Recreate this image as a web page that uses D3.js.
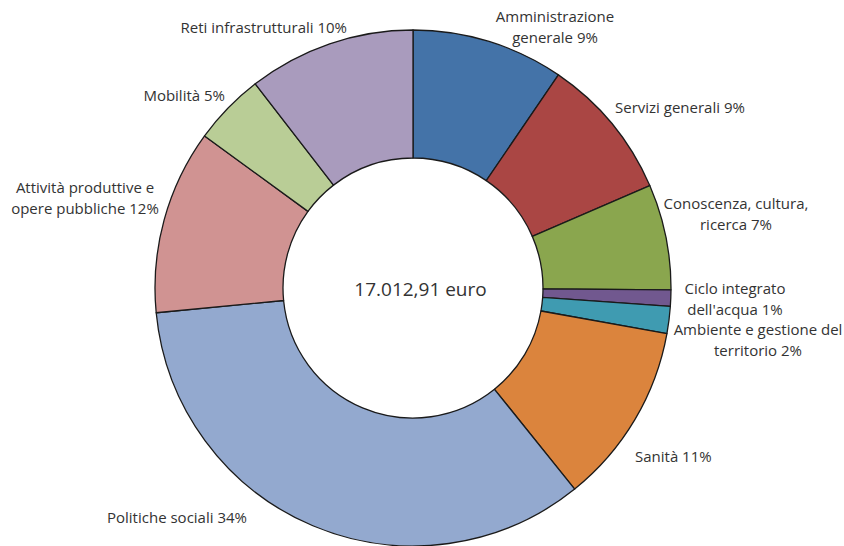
<!DOCTYPE html>
<html>
<head>
<meta charset="utf-8">
<script src="https://cdn.jsdelivr.net/npm/d3@7"></script>
<style>
  html, body { margin: 0; padding: 0; background: #ffffff; }
  svg { display: block; }
  text { font-family: "Open Sans", "Liberation Sans", sans-serif; fill: #333333; }
</style>
</head>
<body>
<svg id="chart" width="844" height="546"></svg>
<script>
// ---- data ----
const categories = [
  "Amministrazione generale", "Servizi generali", "Conoscenza, cultura, ricerca",
  "Ciclo integrato dell'acqua", "Ambiente e gestione del territorio", "Sanità",
  "Politiche sociali", "Attività produttive e opere pubbliche", "Mobilità",
  "Reti infrastrutturali"
];
const shares = [9.53, 8.97, 6.61, 1.03, 1.69, 11.39, 34.25, 11.56, 4.50, 10.47];
const labelLines = [
  ["Amministrazione", "generale 9%"],
  ["Servizi generali 9%"],
  ["Conoscenza, cultura,", "ricerca 7%"],
  ["Ciclo integrato", "dell'acqua 1%"],
  ["Ambiente e gestione del", "territorio 2%"],
  ["Sanità 11%"],
  ["Politiche sociali 34%"],
  ["Attività produttive e", "opere pubbliche 12%"],
  ["Mobilità 5%"],
  ["Reti infrastrutturali 10%"]
];
const colors = ["#4473a8", "#aa4644", "#8aa64e", "#71588f", "#3f9bb1",
                "#db843d", "#93a9cf", "#d09392", "#b9cd96", "#a99bbd"];
const totalLabel = "17.012,91 euro";

// ---- layout (pixels, not data) ----
const cx = 413, cy = 288, R = 258, r = 130;
const labelLayout = [
  {x: 555, y: 22, a: "middle"},
  {x: 615, y: 113, a: "start"},
  {x: 736, y: 209, a: "middle"},
  {x: 735, y: 294, a: "middle"},
  {x: 758, y: 335, a: "middle"},
  {x: 635, y: 462, a: "start"},
  {x: 107, y: 523, a: "start"},
  {x: 85, y: 193, a: "middle"},
  {x: 225, y: 101, a: "end"},
  {x: 347, y: 33, a: "end"}
];
const lineH = 21;

const svg = d3.select("#chart");
const g = svg.append("g").attr("transform", `translate(${cx},${cy})`);

const pie = d3.pie().sort(null).value(d => d)(shares);
const arc = d3.arc().innerRadius(r).outerRadius(R);

g.selectAll("path.slice")
  .data(pie)
  .join("path")
  .attr("class", "slice")
  .attr("d", arc)
  .attr("fill", (d, i) => colors[i])
  .attr("stroke", "#1a1a1a")
  .attr("stroke-width", 1.3)
  .attr("stroke-linejoin", "round");

const labels = svg.append("g");
labelLines.forEach((lines, i) => {
  const L = labelLayout[i];
  const t = labels.append("text")
    .attr("x", L.x).attr("y", L.y)
    .attr("text-anchor", L.a)
    .attr("font-size", 15);
  lines.forEach((s, k) => {
    t.append("tspan").attr("x", L.x).attr("y", L.y + k * lineH).text(s);
  });
});

svg.append("text")
  .attr("x", 420.5).attr("y", 296)
  .attr("text-anchor", "middle")
  .attr("font-size", 19)
  .text(totalLabel);
</script>
</body>
</html>
